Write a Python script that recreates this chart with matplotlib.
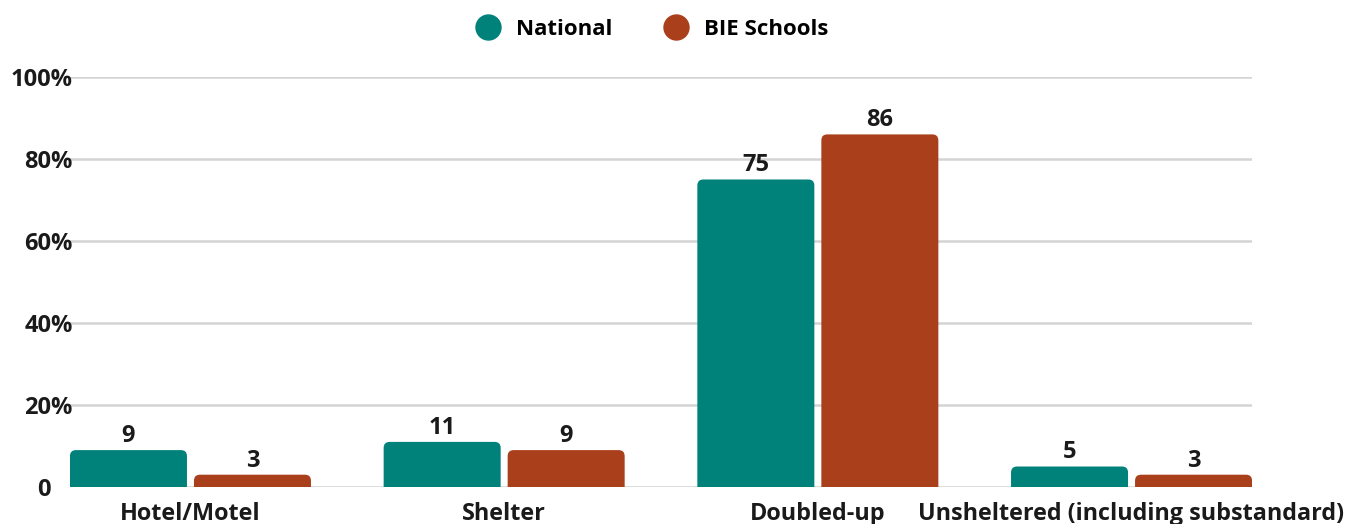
import matplotlib
matplotlib.use("Agg")
import matplotlib.pyplot as plt
import numpy as np
from matplotlib.patches import FancyBboxPatch
from matplotlib.transforms import ScaledTranslation

plt.rcParams['font.family'] = ['Open Sans', 'DejaVu Sans']
plt.rcParams['font.weight'] = 'bold'

categories = ["Hotel/Motel", "Shelter", "Doubled-up", "Unsheltered (including substandard)"]
national = [9, 11, 75, 5]
bie_schools = [3, 9, 86, 3]
series_names = ["National", "BIE Schools"]
colors = ["#00827A", "#A9401B"]
ytick_values = [0, 20, 40, 60, 80, 100]
ytick_labels = ["0", "20%", "40%", "60%", "80%", "100%"]

W, H, DPI = 1356, 524, 100
fig = plt.figure(figsize=(W / DPI, H / DPI), dpi=DPI)
ax = fig.add_axes([70 / W, 37 / H, 1182 / W, 410 / H])

x = np.arange(len(categories))
width = 0.373
gap = 0.0223
offsets = [-(width + gap) / 2, (width + gap) / 2]

ax.set_xlim(-0.384, len(categories) - 1 + 0.384)
ax.set_ylim(0, 100)

# px -> data conversion for rounded corners
xu = (ax.get_xlim()[1] - ax.get_xlim()[0]) / 1182
yu = 100 / 410
radius_px = 6

for vals, off, col, name in zip([national, bie_schools], offsets, colors, series_names):
    bars = ax.bar(x + off, vals, width, color=col, label=name)
    for b, v in zip(bars, vals):
        b.set_visible(False)
        bx, bw, bh = b.get_x(), b.get_width(), b.get_height()
        ext = radius_px * yu
        rp = FancyBboxPatch((bx, -ext), bw, bh + ext,
                            boxstyle=f"round,pad=0,rounding_size={radius_px * xu}",
                            mutation_aspect=yu / xu, facecolor=col, edgecolor="none",
                            zorder=3)
        ax.add_patch(rp)
        ax.annotate(f"{v}", (bx + bw / 2, bh), xytext=(0, 1.5), textcoords="offset points",
                    ha="center", va="bottom", fontsize=17, fontweight="bold",
                    color="#1a1a1a")

ax.set_yticks(ytick_values)
ax.set_yticklabels(ytick_labels)
ax.set_xticks(x)
ax.set_xticklabels(categories)
ax.tick_params(axis="y", length=0, pad=-2, labelsize=17, labelcolor="#1a1a1a")
ax.tick_params(axis="x", length=0, pad=11, labelsize=16.8, labelcolor="#1a1a1a")
for lbl in ax.get_yticklabels():
    lbl.set_fontweight("bold")
for lbl in ax.get_xticklabels():
    lbl.set_fontweight("bold")

# shift the "0" label left
zero = ax.get_yticklabels()[0]
zero.set_transform(zero.get_transform() + ScaledTranslation(-22 / DPI, 0, fig.dpi_scale_trans))

ax.grid(axis="y", color="#d4d4d4", linewidth=1.8, zorder=0)
ax.set_axisbelow(True)
for s in ax.spines.values():
    s.set_visible(False)

handles = [plt.Line2D([], [], marker="o", linestyle="none", markersize=19,
                      markerfacecolor=c, markeredgecolor="none") for c in colors]
fig.legend(handles, series_names, loc="upper center", bbox_to_anchor=(647 / W, 1.0 + 1 / H),
           ncol=2, frameon=False, handletextpad=0.25, columnspacing=1.9,
           prop={"weight": "bold", "size": 16})

fig.savefig("out.png", dpi=DPI)
